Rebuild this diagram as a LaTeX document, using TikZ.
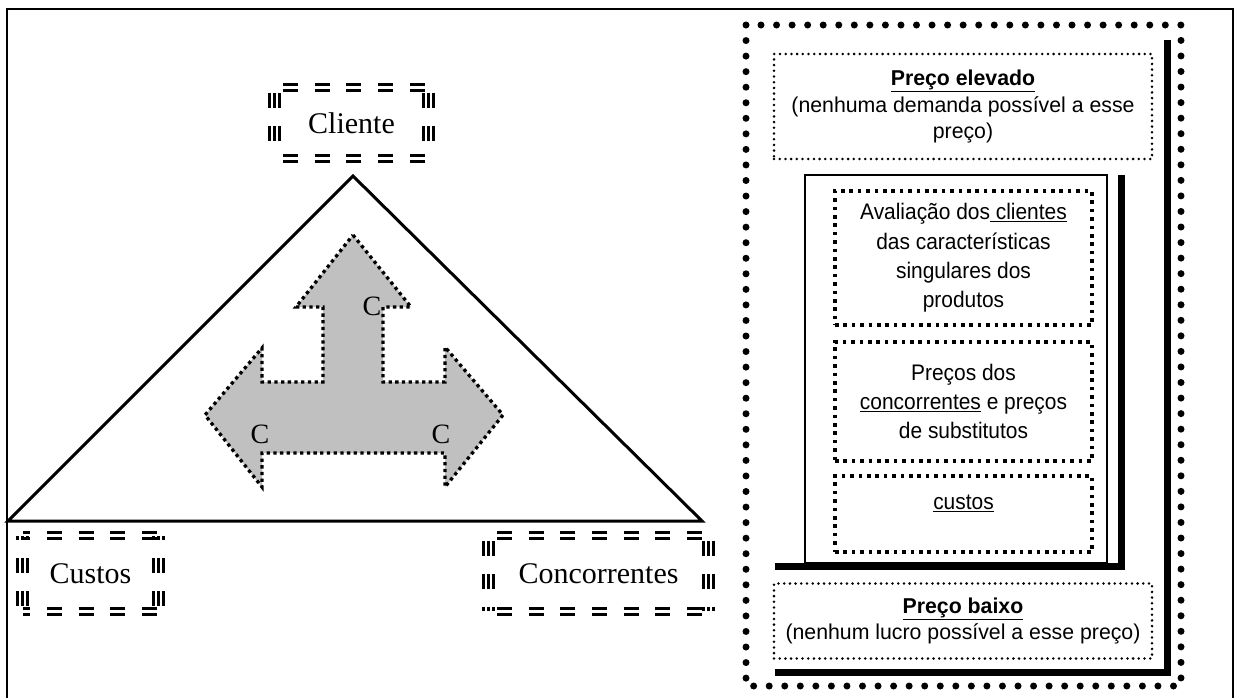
\documentclass[tikz,border=0pt]{standalone}
\usepackage{fontspec}
\setmainfont{Liberation Serif}
\newfontfamily\narrowsans{Liberation Sans}[FakeStretch=0.93]
\newfontfamily\widesans{Liberation Sans}[FakeStretch=0.99]
\definecolor{arrowgray}{RGB}{192,192,192}

% striped frame drawn round a named node: doubled bars on the long sides,
% tripled bars on the short sides; #1 and #2 are the dash phases of the
% long and short sides
\newcommand\stripeframe[3]{%
  \foreach \d in {-2.9,2.9}{%
    \draw[hbar, dash phase=#1] ([yshift=\d pt]#3.north west) -- ([yshift=\d pt]#3.north east);
    \draw[hbar, dash phase=#1] ([yshift=\d pt]#3.south west) -- ([yshift=\d pt]#3.south east);}
  \foreach \d in {-5,0,5}{%
    \draw[vbar, dash phase=#2] ([xshift=\d pt]#3.north west) -- ([xshift=\d pt]#3.south west);
    \draw[vbar, dash phase=#2] ([xshift=\d pt]#3.north east) -- ([xshift=\d pt]#3.south east);}
}

\begin{document}
\begin{tikzpicture}[x=1pt,y=-1pt,
  every node/.style={inner sep=0pt},
  hbar/.style={line width=3.1pt, dash pattern=on 15pt off 16.7pt},
  vbar/.style={line width=3.2pt, dash pattern=on 15pt off 18pt},
  cornerlabel/.style={font=\fontsize{30}{34}\selectfont},
  arrowlabel/.style={font=\fontsize{28}{32}\selectfont},
  bigdots/.style={line width=7pt, line cap=round, dash pattern=on 0pt off 15.55pt},
  rounddots/.style={draw, line width=2.8pt, line cap=round, dash pattern=on 0pt off 5.7pt},
  squaredots/.style={draw, line width=3.6pt, dash pattern=on 3.6pt off 4.8pt},
  arrowdots/.style={line width=3.3pt, dash pattern=on 3.3pt off 3.4pt},
  shadowbar/.style={line width=7pt},
  innertext/.style={align=center, font=\narrowsans\fontsize{22.5}{29.3}\selectfont},
  outertext/.style={align=center, font=\widesans\fontsize{21.5}{26.3}\selectfont},
]
\useasboundingbox (0,0) rectangle (1235,697);
\fill[white] (0,0) rectangle (1235,697);

% page frame
\draw[line width=1.2pt] (7,702) -- (7,9) -- (1233,9) -- (1233,702);

% ---------- the triangle of the three C's ----------
\coordinate (apex) at (353,176);
\coordinate (baseL) at (8,521);
\coordinate (baseR) at (702,521);
\draw[line width=3pt, line join=miter] (baseL) -- (apex) -- (baseR) -- cycle;

% three-headed arrow
\filldraw[fill=arrowgray, draw=black, arrowdots]
  (353,235) -- (411,307) -- (383,307) -- (383,382) -- (445,382) -- (445,347)
  -- (503,415) -- (445,487) -- (445,453) -- (262,453) -- (262,487)
  -- (205,415) -- (262,348) -- (262,382) -- (323,382) -- (323,307)
  -- (296,307) -- cycle;
\node[arrowlabel] (cTop) at (372,306) {C};
\node[arrowlabel] (cLeft) at (260,434) {C};
\node[arrowlabel] (cRight) at (441,434) {C};

% corner labels
\node[cornerlabel, minimum width=153pt, minimum height=70pt] (cliente) at (351.5,123) {Cliente};
\node[cornerlabel, minimum width=135pt, minimum height=75pt] (custos) at (90.5,573.5) {Custos};
\node[cornerlabel, minimum width=219pt, minimum height=75pt] (concorrentes) at (598.5,573.5) {Concorrentes};
\stripeframe{23.7pt}{28pt}{cliente}
\stripeframe{7.7pt}{11pt}{custos}
\stripeframe{23.7pt}{28pt}{concorrentes}

% ---------- price range panel ----------
\draw[bigdots] (746,25) rectangle (1181,686);
\draw[shadowbar] (1167,40) -- (1167,672) -- (775,672);
\draw[shadowbar] (1121,175) -- (1121,566) -- (775,566);
\draw[line width=2.5pt] (805,175) rectangle (1107,563);

\node[rounddots, outertext, minimum width=378pt, minimum height=105pt] (high) at (963,106.5)
  {\textbf{\underline{Preço elevado}}\\(nenhuma demanda possível a esse\\preço)};
\node[squaredots, innertext, minimum width=257pt, minimum height=134pt] (clients) at (963.5,258)
  {Avaliação dos\underline{ clientes}\\das características\\singulares dos\\produtos};
\node[squaredots, innertext, minimum width=257pt, minimum height=119pt] (rivals) at (963.5,401.5)
  {Preços dos\\\underline{concorrentes} e preços\\de substitutos};
\node[squaredots, minimum width=257pt, minimum height=76pt] (costs) at (963.5,514) {};
\node[innertext] (coststext) at (963.5,503) {\underline{custos}};
\node[rounddots, outertext, minimum width=378pt, minimum height=75pt] (low) at (963,621)
  {\textbf{\underline{Preço baixo}}\\(nenhum lucro possível a esse preço)};
\end{tikzpicture}
\end{document}
